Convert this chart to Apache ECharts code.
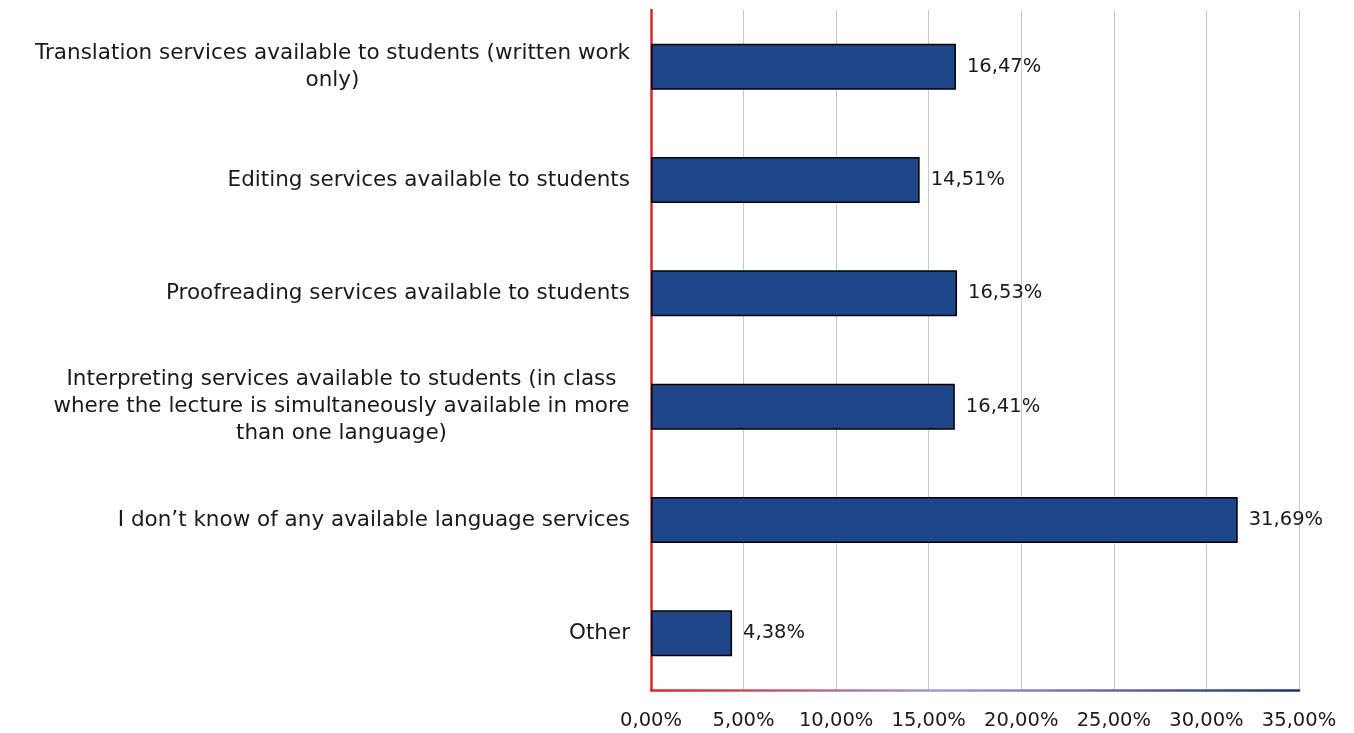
<!DOCTYPE html>
<html>
<head>
<meta charset="utf-8">
<title>Language services available to students</title>
<script src="https://cdn.jsdelivr.net/npm/echarts@6/dist/echarts.min.js"></script>
<style>
  html, body { margin: 0; padding: 0; background: #ffffff; }
  #chart { width: 1354px; height: 733px; }
</style>
</head>
<body>
<div id="chart"></div>
<script>
// Survey answers (top to bottom) and the share of respondents for each, in percent
const categories = [
  'Translation services available to students (written work\nonly)',
  'Editing services available to students',
  'Proofreading services available to students',
  'Interpreting services available to students (in class\nwhere the lecture is simultaneously available in more\nthan one language)',
  'I don\u2019t know of any available language services',
  'Other'
];
const values = [16.47, 14.51, 16.53, 16.41, 31.69, 4.38];

// Value axis range and step, in percent
const axisMin = 0;
const axisMax = 35;
const axisStep = 5;

const FONT = '"DejaVu Sans", "Open Sans", sans-serif';
const FONT_SIZE = 21.5;
const NUM_SIZE = 19.5;
const LINE_HEIGHT = 27;
const TEXT_COLOR = '#1a1a1a';

const pct = v => v.toFixed(2).replace('.', ',') + '%';

// Wrapped category labels are centred line by line inside a block that is
// as wide as their longest line; the block itself sits right-aligned.
const measureCtx = document.createElement('canvas').getContext('2d');
measureCtx.font = FONT_SIZE + 'px ' + FONT;
const rich = {};
categories.forEach((c, i) => {
  const lines = c.split('\n');
  if (lines.length > 1) {
    const w = Math.ceil(Math.max(...lines.map(l => measureCtx.measureText(l).width)));
    rich['w' + i] = {
      width: w, align: 'center', fontFamily: FONT, fontSize: FONT_SIZE,
      color: TEXT_COLOR, lineHeight: LINE_HEIGHT
    };
  }
});

const chart = echarts.init(document.getElementById('chart'), null, { renderer: 'canvas' });

chart.setOption({
  animation: false,
  backgroundColor: '#ffffff',
  grid: { left: 651, right: 55, top: 10, bottom: 43, containLabel: false },
  xAxis: {
    type: 'value',
    min: axisMin,
    max: axisMax,
    interval: axisStep,
    axisLine: {
      show: true,
      lineStyle: {
        width: 2.5,
        color: new echarts.graphic.LinearGradient(0, 0, 1, 0, [
          { offset: 0, color: '#d9262b' },
          { offset: 0.45, color: '#9aa0d0' },
          { offset: 1, color: '#1f2f6e' }
        ])
      }
    },
    axisTick: { show: false },
    splitLine: { show: true, lineStyle: { color: '#c8c8c8', width: 1 } },
    axisLabel: {
      formatter: v => pct(v),
      margin: 21,
      fontFamily: FONT,
      fontSize: NUM_SIZE,
      color: TEXT_COLOR
    }
  },
  yAxis: {
    type: 'category',
    data: categories,
    inverse: true,
    axisLine: { show: true, lineStyle: { color: '#d9262b', width: 2.5 } },
    axisTick: { show: false },
    splitLine: { show: false },
    axisLabel: {
      margin: 21,
      align: 'right',
      fontFamily: FONT,
      fontSize: FONT_SIZE,
      color: TEXT_COLOR,
      lineHeight: LINE_HEIGHT,
      formatter: (v, i) => {
        const lines = v.split('\n');
        if (lines.length === 1) return v;
        return lines.map(l => '{w' + i + '|' + l + '}').join('\n');
      },
      rich: rich
    }
  },
  series: [{
    type: 'bar',
    data: values,
    barWidth: 46,
    itemStyle: { color: '#1f4688', borderColor: '#000000', borderWidth: 1.5 },
    label: {
      show: true,
      position: 'right',
      distance: 11,
      formatter: p => pct(p.value),
      fontFamily: FONT,
      fontSize: NUM_SIZE,
      color: TEXT_COLOR
    }
  }]
});
</script>
</body>
</html>
